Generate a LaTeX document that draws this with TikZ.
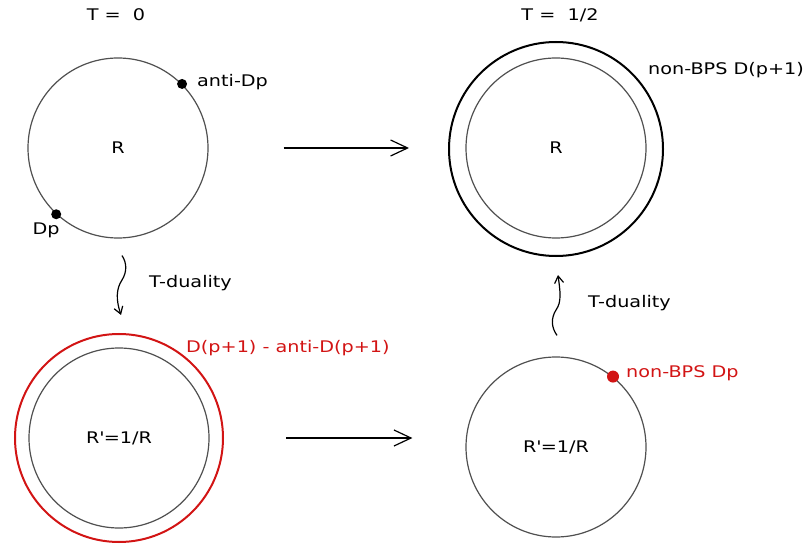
\documentclass[tikz,border=0pt]{standalone}
\usepackage{fontspec}
\setmainfont{DejaVu Sans}[FakeStretch=1.2]
\usetikzlibrary{arrows.meta,positioning,calc}
\definecolor{DbGray}{RGB}{80,80,80}
\definecolor{DbRed}{RGB}{210,20,20}
\newcommand{\dbfont}{\fontsize{16bp}{19bp}\selectfont}
\tikzset{
  db/ring/.style={
    circle,
    draw=DbGray,
    line width=1.2bp,
    minimum size=180bp,
    inner sep=0pt,
    font=\dbfont,
    text=black
  },
  db/outer/.style={
    circle,
    draw=black,
    line width=2bp,
    minimum size=214bp,
    inner sep=0pt
  },
  db/dot/.style={circle, fill=black, inner sep=0pt, minimum size=10bp},
  db/reddot/.style={circle, fill=DbRed, inner sep=0pt, minimum size=12bp},
  db/label/.style={font=\dbfont, text=black, inner sep=0pt},
  db/redlabel/.style={font=\dbfont, text=DbRed, inner sep=0pt},
  db/arrow/.style={-{Straight Barb[length=17bp,width=16bp]}, line width=1.2bp, draw=black},
  db/wavy/.style={-{Straight Barb[length=7bp,width=9bp]}, line width=1.2bp, draw=black}
}
\begin{document}
\begin{tikzpicture}[x=1bp,y=-1bp]
  \useasboundingbox (0,0) rectangle (806,544);
  % titles
  \node[db/label] (lblT0) at (116,15) {T =\ \ 0};
  \node[db/label] (lblTh) at (560,15) {T =\ \ 1/2};
  % T = 0, radius R
  \node[db/ring] (bpsR) at (118,148) {R};
  \node[db/dot] (aDp) at (bpsR.45) {};
  \node[db/dot] (Dp) at (bpsR.227) {};
  \node[db/label, anchor=west] (lblAnti) at (197,82) {anti-Dp};
  \node[db/label] (lblDp) at (46,230) {Dp};
  % T = 1/2, radius R
  \node[db/ring] (nbpsR) at (556,148) {R};
  \node[db/outer] (nbpsOuter) at (556,149) {};
  \node[db/label, anchor=west] (lblPlus) at (648,70) {non-BPS D(p+1)};
  % T = 0, dual radius
  \node[db/ring] (pairD) at (119,438) {R\textquotesingle=1/R};
  \node[db/outer, draw=DbRed, minimum size=208bp] (pairOuter) at (119,438) {};
  \node[db/redlabel, anchor=west] (lblPair) at (186,348) {D(p+1) - anti-D(p+1)};
  % T = 1/2, dual radius
  \node[db/ring] (nbpsDual) at (556,447) {R\textquotesingle=1/R};
  \node[db/reddot] (nDp) at (nbpsDual.51) {};
  \node[db/redlabel, anchor=west] (lblNbps) at (626,373) {non-BPS Dp};
  % arrows
  \draw[db/arrow, shorten <=75bp, shorten >=39bp] (bpsR.east) -- (bpsR.east -| nbpsOuter.west);
  \draw[db/arrow, shorten <=62bp, shorten >=53bp] (pairOuter.east) -- (pairOuter.east -| nbpsDual.west);
  \draw[db/wavy] ([xshift=4bp,yshift=-17bp]bpsR.south) .. controls (127,263) and (127,272) .. (122,280)
    .. controls (116,289) and (116,300) .. ([xshift=2bp,yshift=18bp]pairOuter.north);
  \draw[db/wavy] ([xshift=1bp,yshift=21bp]nbpsDual.north) .. controls (551,327) and (551,318) .. (556,310)
    .. controls (562,302) and (560,290) .. ([xshift=2bp,yshift=-18bp]nbpsOuter.south);
  \node[db/label, anchor=west] (lblTdL) at (149,283) {T-duality};
  \node[db/label, anchor=west] (lblTdR) at (588,303) {T-duality};
\end{tikzpicture}
\end{document}
